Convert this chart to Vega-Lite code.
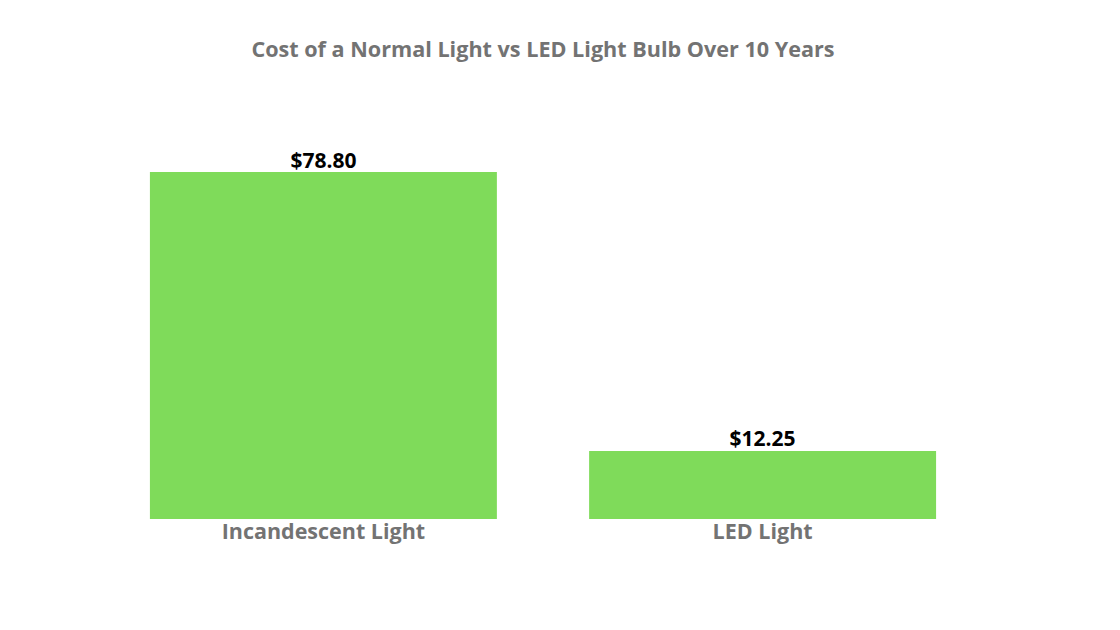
{
  "$schema": "https://vega.github.io/schema/vega-lite/v6.json",
  "autosize": "none",
  "width": 874,
  "height": 347,
  "padding": {"left": 106, "top": 172, "right": 140, "bottom": 111},
  "background": "white",
  "title": {
    "text": "Cost of a Normal Light vs LED Light Bulb Over 10 Years",
    "font": "Open Sans",
    "fontSize": 21.6,
    "fontWeight": "bold",
    "color": "#737373",
    "anchor": "middle",
    "frame": "group",
    "offset": 89
  },
  "data": {
    "values": [
      {"type": "Incandescent Light", "cost": 78.80, "label": "$78.80", "base": -4},
      {"type": "LED Light", "cost": 12.25, "label": "$12.25", "base": -4}
    ]
  },
  "encoding": {
    "x": {
      "field": "type",
      "type": "nominal",
      "sort": null,
      "scale": {"paddingInner": 0.21, "paddingOuter": 0.1},
      "axis": {
        "title": null,
        "labelAngle": 0,
        "domain": false,
        "ticks": false,
        "labelPadding": 2,
        "labelLimit": 500,
        "labelFont": "Open Sans",
        "labelFontSize": 21.5,
        "labelFontWeight": "bold",
        "labelColor": "#737373"
      }
    },
    "y": {
      "field": "cost",
      "type": "quantitative",
      "scale": {"domain": [-4, 78.8], "nice": false, "zero": false},
      "axis": null
    }
  },
  "layer": [
    {
      "mark": {"type": "bar", "color": "#7FDB5A"},
      "encoding": {"y2": {"field": "base"}}
    },
    {
      "mark": {
        "type": "text",
        "baseline": "bottom",
        "dy": -0.5,
        "font": "Open Sans",
        "fontSize": 21,
        "fontWeight": "bold",
        "color": "#000000"
      },
      "encoding": {"text": {"field": "label"}}
    }
  ],
  "config": {"view": {"stroke": null}}
}
